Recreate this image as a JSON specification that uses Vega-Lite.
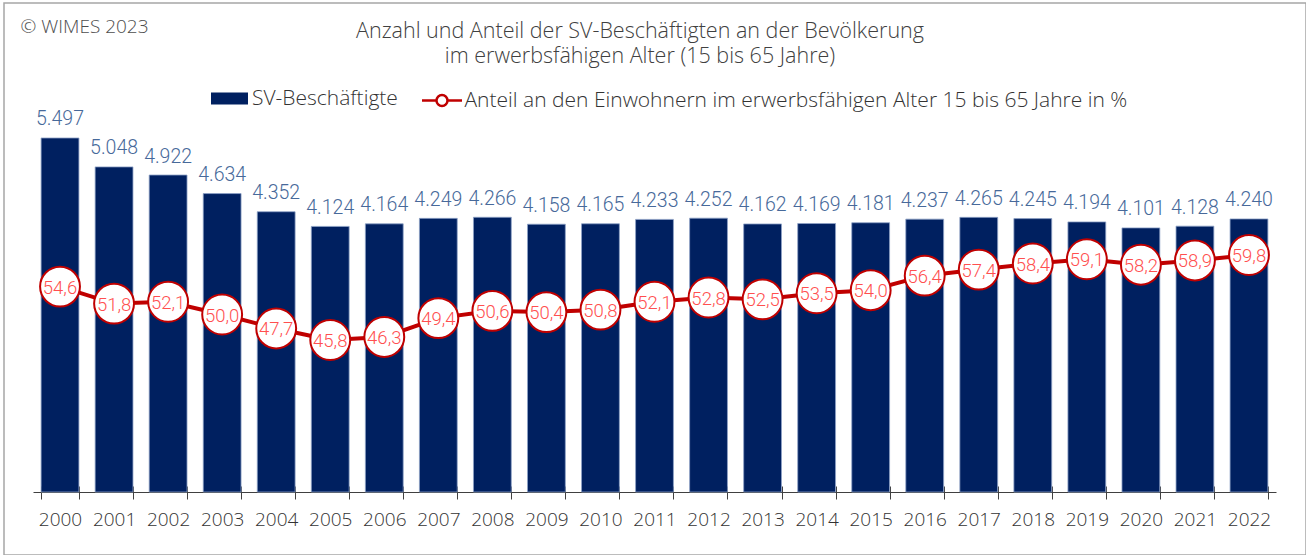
{
  "$schema": "https://vega.github.io/schema/vega-lite/v6.json",
  "width": 1302,
  "height": 552,
  "padding": {"left": 4, "top": 3, "right": 0, "bottom": 0},
  "autosize": {"type": "none"},
  "background": "white",
  "title": {
    "text": ["Anzahl und Anteil der SV-Beschäftigten an der Bevölkerung", "im erwerbsfähigen Alter (15 bis 65 Jahre)"],
    "anchor": "middle",
    "frame": "group",
    "dx": -15,
    "offset": -64,
    "baseline": "top",
    "font": "Open Sans",
    "fontWeight": 300,
    "fontSize": 21.5,
    "lineHeight": 25,
    "color": "#404040"
  },
  "data": {
    "values": [
      {"jahr": "2000", "sv": 5497, "anteil": 54.6},
      {"jahr": "2001", "sv": 5048, "anteil": 51.8},
      {"jahr": "2002", "sv": 4922, "anteil": 52.1},
      {"jahr": "2003", "sv": 4634, "anteil": 50.0},
      {"jahr": "2004", "sv": 4352, "anteil": 47.7},
      {"jahr": "2005", "sv": 4124, "anteil": 45.8},
      {"jahr": "2006", "sv": 4164, "anteil": 46.3},
      {"jahr": "2007", "sv": 4249, "anteil": 49.4},
      {"jahr": "2008", "sv": 4266, "anteil": 50.6},
      {"jahr": "2009", "sv": 4158, "anteil": 50.4},
      {"jahr": "2010", "sv": 4165, "anteil": 50.8},
      {"jahr": "2011", "sv": 4233, "anteil": 52.1},
      {"jahr": "2012", "sv": 4252, "anteil": 52.8},
      {"jahr": "2013", "sv": 4162, "anteil": 52.5},
      {"jahr": "2014", "sv": 4169, "anteil": 53.5},
      {"jahr": "2015", "sv": 4181, "anteil": 54.0},
      {"jahr": "2016", "sv": 4237, "anteil": 56.4},
      {"jahr": "2017", "sv": 4265, "anteil": 57.4},
      {"jahr": "2018", "sv": 4245, "anteil": 58.4},
      {"jahr": "2019", "sv": 4194, "anteil": 59.1},
      {"jahr": "2020", "sv": 4101, "anteil": 58.2},
      {"jahr": "2021", "sv": 4128, "anteil": 58.9},
      {"jahr": "2022", "sv": 4240, "anteil": 59.8}
    ]
  },
  "config": {
    "view": {"stroke": "#a6a6a6", "strokeWidth": 1.5},
    "font": "Open Sans",
    "locale": {
      "number": {"decimal": ",", "thousands": ".", "grouping": [3], "currency": ["", " €"]}
    }
  },
  "resolve": {
    "scale": {"y": "independent"},
    "axis": {"x": "independent", "y": "independent"}
  },
  "layer": [
    {
      "encoding": {
        "x": {
          "field": "jahr",
          "type": "nominal",
          "sort": null,
          "scale": {"range": [29, 1272], "paddingInner": 0.3, "paddingOuter": 0.15},
          "axis": {
            "orient": "bottom",
            "offset": -69,
            "title": null,
            "domain": false,
            "grid": false,
            "ticks": true,
            "tickBand": "extent",
            "tickSize": 13,
            "tickColor": "#404040",
            "tickWidth": 1,
            "labelAngle": 0,
            "labelPadding": 11,
            "labelFont": "Open Sans",
            "labelFontWeight": 300,
            "labelFontSize": 19,
            "labelColor": "#333333"
          }
        },
        "y": {
          "field": "sv",
          "type": "quantitative",
          "scale": {"domain": [0, 6000], "range": [489, 102.6], "nice": false},
          "axis": {
            "orient": "left",
            "title": "© WIMES 2023",
            "titleAngle": 0,
            "titleX": 16,
            "titleY": 23,
            "titleAlign": "left",
            "titleBaseline": "middle",
            "titleFont": "Open Sans",
            "titleFontWeight": 300,
            "titleFontSize": 19,
            "titleColor": "#4d4d4d",
            "labels": false,
            "ticks": false,
            "domain": false,
            "grid": false
          }
        }
      },
      "layer": [
        {
          "mark": {"type": "bar", "stroke": "#8ea2c6", "strokeWidth": 0.8},
          "encoding": {
            "fill": {
              "datum": "SV-Beschäftigte",
              "type": "nominal",
              "scale": {"range": ["#002060"]},
              "legend": {
                "orient": "none",
                "legendX": 207,
                "legendY": 77,
                "title": null,
                "padding": 0,
                "symbolType": "M-1,-0.32H1V0.32H-1Z",
                "symbolSize": 1369,
                "symbolStrokeWidth": 0,
                "labelFont": "Open Sans",
                "labelFontWeight": 300,
                "labelFontSize": 21,
                "labelColor": "#333333",
                "labelOffset": 4
              }
            }
          }
        },
        {
          "mark": {
            "type": "text",
            "baseline": "alphabetic",
            "dy": -12.5,
            "font": "Roboto",
            "fontWeight": 300,
            "fontSize": 19.5,
            "color": "#47699a"
          },
          "encoding": {
            "text": {"field": "sv", "type": "quantitative", "format": ",d"}
          }
        }
      ]
    },
    {
      "encoding": {
        "x": {
          "field": "jahr",
          "type": "nominal",
          "sort": null,
          "axis": {
            "orient": "bottom",
            "offset": -63,
            "title": null,
            "domain": true,
            "domainColor": "#404040",
            "domainWidth": 1,
            "ticks": false,
            "labels": false,
            "grid": false
          }
        },
        "y": {
          "field": "anteil",
          "type": "quantitative",
          "scale": {"domain": [0, 100], "range": [615, 8], "nice": false, "zero": false},
          "axis": null
        }
      },
      "layer": [
        {
          "mark": {"type": "line", "strokeWidth": 4},
          "encoding": {
            "stroke": {
              "datum": "Anteil an den Einwohnern im erwerbsfähigen Alter 15 bis 65 Jahre in %",
              "type": "nominal",
              "scale": {"range": ["#c00000"]},
              "legend": {
                "orient": "none",
                "legendX": 416.5,
                "legendY": 76,
                "title": null,
                "padding": 0,
                "symbolType": "M-1,0H-0.275M0.275,0H1M0.275,0A0.275,0.275,0,1,1,-0.275,0A0.275,0.275,0,1,1,0.275,0",
                "symbolSize": 1600,
                "symbolStrokeWidth": 2.5,
                "symbolFillColor": "white",
                "labelFont": "Open Sans",
                "labelFontWeight": 300,
                "labelFontSize": 21,
                "labelColor": "#333333",
                "labelOffset": 1,
                "labelLimit": 900,
                "encode": {"symbols": {"update": {"fill": {"value": "white"}, "strokeWidth": {"value": 2.5}}}}
              }
            }
          }
        },
        {
          "mark": {
            "type": "point",
            "shape": "circle",
            "filled": true,
            "fill": "white",
            "stroke": "#c00000",
            "strokeWidth": 2,
            "size": 1590,
            "opacity": 1
          }
        },
        {
          "mark": {
            "type": "text",
            "baseline": "middle",
            "dy": 1,
            "font": "Roboto",
            "fontWeight": 300,
            "fontSize": 18.5,
            "color": "#ff4f4f"
          },
          "encoding": {
            "text": {"field": "anteil", "type": "quantitative", "format": ".1f"}
          }
        }
      ]
    }
  ]
}
